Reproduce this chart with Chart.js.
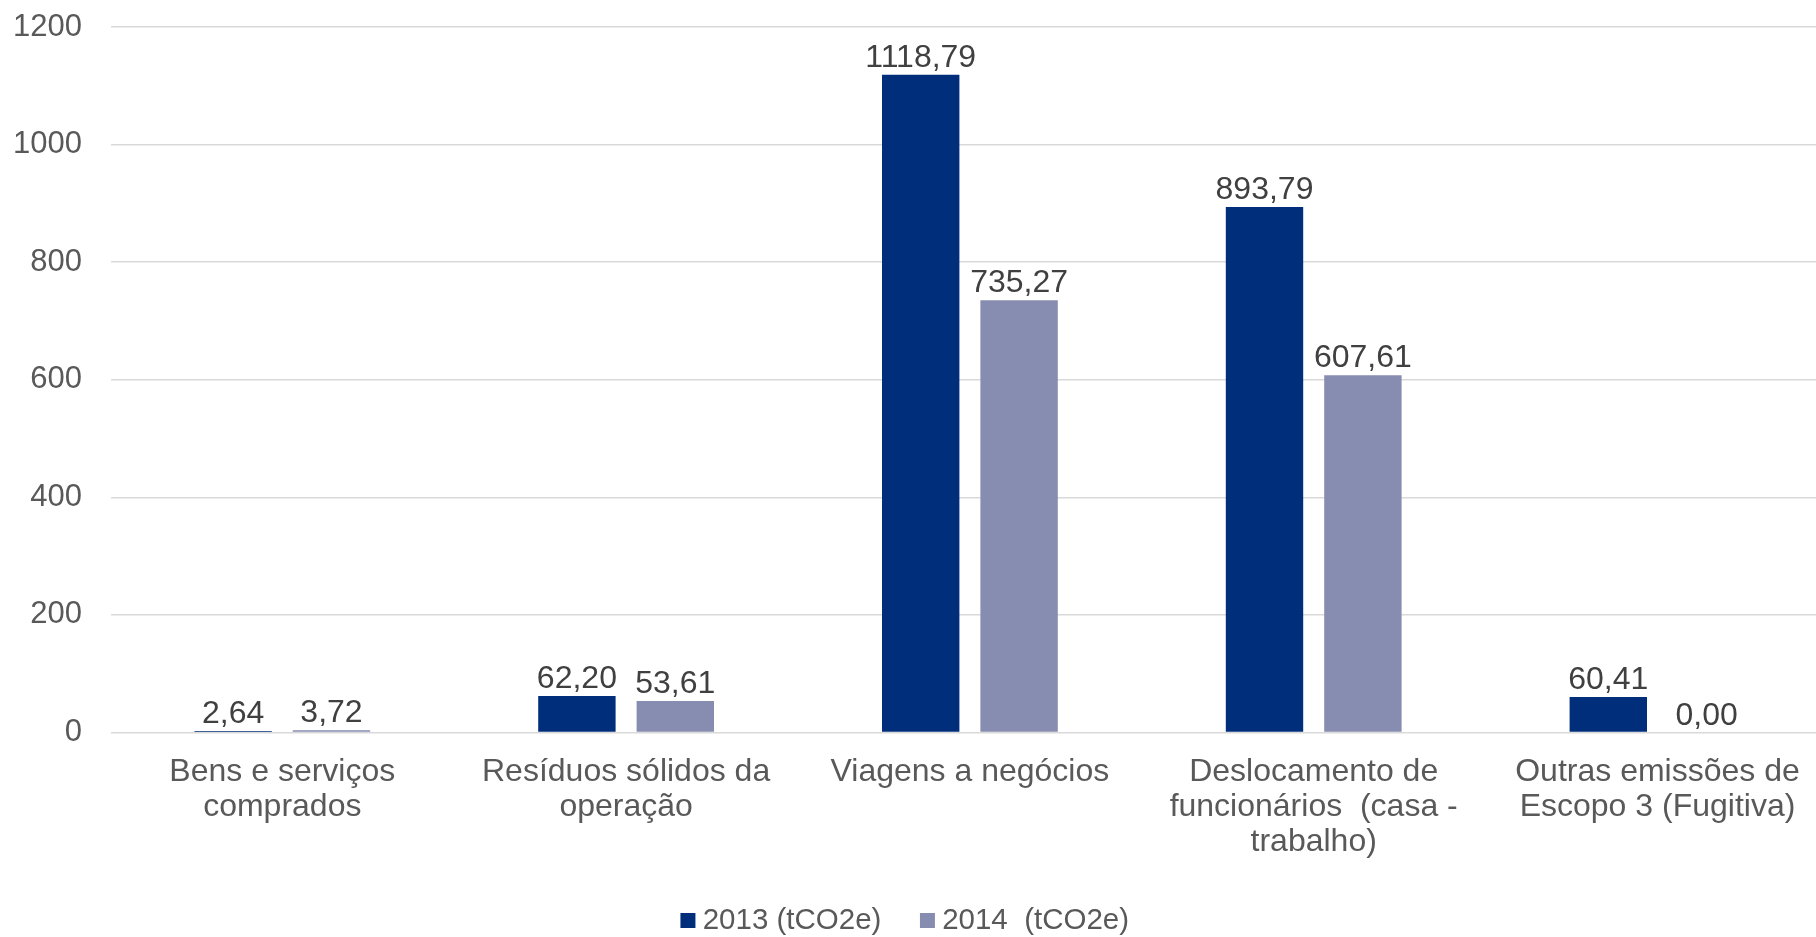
<!DOCTYPE html>
<html>
<head>
<meta charset="utf-8">
<script src="https://cdn.jsdelivr.net/npm/chart.js@4/dist/chart.umd.min.js"></script>
<style>
html,body{margin:0;padding:0;background:#fff;overflow:hidden;}
#wrap{width:1816px;height:937px;}
</style>
</head>
<body>
<div id="wrap"><canvas id="c" width="1816" height="937"></canvas></div>
<script>
const categories = [
  ["Bens e serviços", "comprados"],
  ["Resíduos sólidos da", "operação"],
  ["Viagens a negócios"],
  ["Deslocamento de", "funcionários  (casa -", "trabalho)"],
  ["Outras emissões de", "Escopo 3 (Fugitiva)"]
];
const seriesNames = ["2013 (tCO2e)", "2014  (tCO2e)"];
const values2013 = [2.64, 62.20, 1118.79, 893.79, 60.41];
const values2014 = [3.72, 53.61, 735.27, 607.61, 0.00];
const yTicks = [0, 200, 400, 600, 800, 1000, 1200];
const seriesColors = ['#002E7A', '#878DB0'];

const FONT = "'Liberation Sans', Arial, sans-serif";
const fmt = v => v.toFixed(2).replace('.', ',');

function legendSwatch(color) {
  const c = document.createElement('canvas');
  c.width = 40; c.height = 15;
  const g = c.getContext('2d');
  g.fillStyle = color;
  g.fillRect(13, 0, 15, 15);
  return c;
}
const swatches = seriesColors.map(legendSwatch);

const labelPlugin = {
  id: 'valueLabels',
  afterDatasetsDraw(chart) {
    const ctx = chart.ctx;
    ctx.save();
    ctx.font = "32px " + FONT;
    ctx.fillStyle = "#404040";
    ctx.textAlign = "center";
    ctx.textBaseline = "alphabetic";
    chart.data.datasets.forEach((ds, i) => {
      const meta = chart.getDatasetMeta(i);
      meta.data.forEach((el, j) => {
        ctx.fillText(fmt(ds.data[j]), el.x, el.y - 8);
      });
    });
    ctx.restore();
  }
};

// Plot area of the original extends slightly past the right edge of the picture
const plotExtent = {
  id: 'plotExtent',
  afterLayout(chart) {
    const x = chart.scales.x;
    x.left = 110.4;
    x.right = 1829.4;
    x.width = x.right - x.left;
    x.configure();
  }
};

new Chart(document.getElementById('c'), {
  type: 'bar',
  data: {
    labels: categories,
    datasets: [
      { label: seriesNames[0], data: values2013, backgroundColor: seriesColors[0],
        categoryPercentage: 0.5724, barPercentage: 0.7866 },
      { label: seriesNames[1], data: values2014, backgroundColor: seriesColors[1],
        categoryPercentage: 0.5724, barPercentage: 0.7866 }
    ]
  },
  options: {
    responsive: false,
    animation: false,
    layout: { padding: { top: 27, right: 0, left: 0, bottom: -8.5 } },
    plugins: {
      legend: {
        position: 'bottom',
        labels: {
          font: { size: 29.5, family: FONT },
          color: '#595959',
          usePointStyle: true,
          pointStyleWidth: 1,
          boxHeight: 15,
          padding: 45,
          generateLabels(chart) {
            const items = Chart.defaults.plugins.legend.labels.generateLabels(chart);
            items.forEach((it, i) => { it.pointStyle = swatches[i]; });
            return items;
          }
        }
      },
      tooltip: { enabled: false }
    },
    scales: {
      x: {
        afterFit: axis => { axis.height += 1.5; },
        grid: { display: true, drawOnChartArea: false, drawTicks: true, tickLength: 22, tickColor: 'rgba(0,0,0,0)' },
        border: { display: false },
        ticks: {
          font: { size: 32, family: FONT, lineHeight: '35px' },
          color: '#595959',
          maxRotation: 0, minRotation: 0, autoSkip: false,
          padding: 0
        }
      },
      y: {
        min: 0, max: 1200,
        afterBuildTicks: axis => { axis.ticks = yTicks.map(v => ({ value: v })); },
        afterFit: axis => { axis.width += 13; },
        grid: { color: '#d9d9d9', lineWidth: 1.5, drawTicks: true, tickLength: 29.5, tickColor: 'rgba(0,0,0,0)' },
        border: { display: false },
        ticks: {
          font: { size: 31, family: FONT },
          color: '#595959',
          padding: 0,
          callback: v => String(v)
        }
      }
    }
  },
  plugins: [plotExtent, labelPlugin]
});
</script>
</body>
</html>
